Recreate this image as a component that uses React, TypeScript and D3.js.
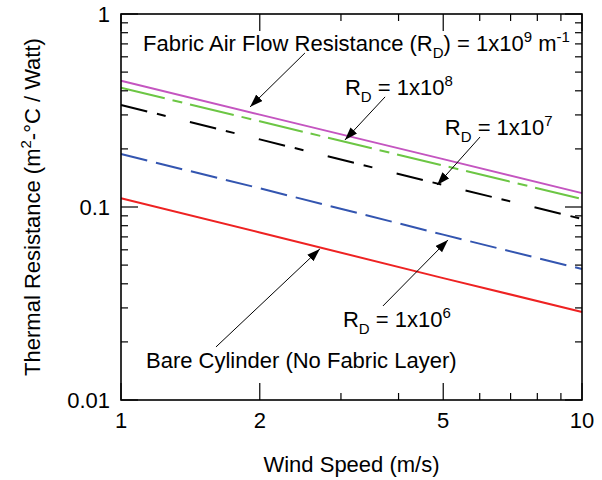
import React from 'react';
import * as d3 from 'd3';

const windSpeed = [1, 2, 5, 10];

// thermal resistance (m2-C / W) for each fabric air flow resistance
const rd1e9 = [0.451, 0.301, 0.177, 0.118];
const rd1e8 = [0.415, 0.278, 0.164, 0.110];
const rd1e7 = [0.338, 0.224, 0.130, 0.0867];
const rd1e6 = [0.188, 0.125, 0.0719, 0.0477];
const bare = [0.111, 0.0738, 0.0428, 0.0286];

const xMajor = [1, 2, 5, 10];
const xTickLabels = ['1', '2', '5', '10'];
const yMajor = [0.01, 0.1, 1];
const yTickLabels = ['0.01', '0.1', '1'];

const series = [
    { name: 'rd1e9', values: rd1e9, color: '#c455c0', dash: null },
    { name: 'rd1e8', values: rd1e8, color: '#6cc644', dash: '45 8 10 8' },
    { name: 'rd1e7', values: rd1e7, color: '#000000', dash: '27 10 9 25' },
    { name: 'rd1e6', values: rd1e6, color: '#3355b0', dash: '27 9' },
    { name: 'bare', values: bare, color: '#ee2222', dash: null },
];

const W = 602;
const H = 480;
const margin = { top: 14, right: 20, bottom: 80, left: 121 };
const FONT = 'Liberation Sans, Arial, Helvetica, sans-serif';
const FS = 22;
const SMALL = 15;

const x = d3.scaleLog().domain([1, 10]).range([margin.left, W - margin.right]);
const y = d3.scaleLog().domain([0.01, 1]).range([H - margin.bottom, margin.top]);

const xMinor = d3.range(1, 11).filter(v => !xMajor.includes(v));
const yMinor = [0.01, 0.1].flatMap(d => d3.range(2, 10).map(k => +(k * d).toFixed(3)));

// annotation anchors, in data units
const notes = [
    { id: '9', text: [1.116, 0.643], from: [2.506, 0.628], to: [1.905, 0.330] },
    { id: '8', text: [3.06, 0.380], from: [3.74, 0.372], to: [3.06, 0.2224] },
    { id: '7', text: [5.04, 0.236], from: [6.01, 0.2305], to: [4.85, 0.130] },
    { id: '6', text: [3.03, 0.0239], from: [3.70, 0.0307], to: [5.12, 0.0675] },
    { id: 'b', text: [1.133, 0.01465], from: [1.607, 0.01883], to: [2.70, 0.0606] },
];

const App = () => {
    const line = d3.line<number>()
        .x((_, i) => x(windSpeed[i]))
        .y(d => y(d));

    const x0 = x.range()[0], x1 = x.range()[1];
    const y0 = y.range()[0], y1 = y.range()[1];
    const majLen = 17;
    const minLen = 7;

    const Rd = (exp: string) => (
        <>
            R<tspan dy={7} fontSize={SMALL}>D</tspan>
            <tspan dy={-7}> = 1x10</tspan>
            <tspan dy={-9} fontSize={SMALL}>{exp}</tspan>
        </>
    );

    const noteText = (id: string) => {
        if (id === '9') {
            return (
                <>
                    Fabric Air Flow Resistance (R<tspan dy={7} fontSize={SMALL}>D</tspan>
                    <tspan dy={-7}>) = 1x10</tspan>
                    <tspan dy={-9} fontSize={SMALL}>9</tspan>
                    <tspan dy={9}> m</tspan>
                    <tspan dy={-9} fontSize={SMALL}>-1</tspan>
                </>
            );
        }
        if (id === 'b') return 'Bare Cylinder (No Fabric Layer)';
        return Rd(id);
    };

    return (
        <svg width={W} height={H} style={{ position: 'absolute', left: 0, top: 0, background: '#fff' }}
            fontFamily={FONT}>
            <defs>
                <marker id="arrow" markerUnits="userSpaceOnUse" markerWidth={14} markerHeight={10}
                    refX={13} refY={4.5} orient="auto">
                    <path d="M0,0 L13,4.5 L0,9 Z" fill="#000" />
                </marker>
            </defs>

            {series.map(s => (
                <path key={s.name} d={line(s.values) || ''} fill="none" stroke={s.color}
                    strokeWidth={2} strokeDasharray={s.dash || undefined} />
            ))}

            {/* frame */}
            <rect x={x0} y={y1} width={x1 - x0} height={y0 - y1} fill="none" stroke="#000" strokeWidth={1.6} />

            {/* x ticks, bottom and top */}
            {xMajor.concat(xMinor).map(v => {
                const len = xMajor.includes(v) ? majLen : minLen;
                return (
                    <g key={'x' + v} stroke="#000" strokeWidth={1.2}>
                        <line x1={x(v)} x2={x(v)} y1={y0} y2={y0 - len} />
                        <line x1={x(v)} x2={x(v)} y1={y1} y2={y1 + len} />
                    </g>
                );
            })}
            {/* y ticks, left and right */}
            {yMajor.concat(yMinor).map(v => {
                const len = yMajor.includes(v) ? majLen : minLen;
                return (
                    <g key={'y' + v} stroke="#000" strokeWidth={1.2}>
                        <line x1={x0} x2={x0 + len} y1={y(v)} y2={y(v)} />
                        <line x1={x1} x2={x1 - len} y1={y(v)} y2={y(v)} />
                    </g>
                );
            })}

            {xMajor.map((v, i) => (
                <text key={'xl' + v} x={x(v)} y={y0 + 28} textAnchor="middle" fontSize={FS}>
                    {xTickLabels[i]}
                </text>
            ))}
            {yMajor.map((v, i) => (
                <text key={'yl' + v} x={x0 - 11} y={y(v) + 8} textAnchor="end" fontSize={FS}>
                    {yTickLabels[i]}
                </text>
            ))}

            <text x={(x0 + x1) / 2} y={472} textAnchor="middle" fontSize={FS}>Wind Speed (m/s)</text>
            <text transform={`translate(40,${(y0 + y1) / 2}) rotate(-90)`} textAnchor="middle" fontSize={FS}>
                Thermal Resistance (m<tspan dy={-9} fontSize={SMALL}>2</tspan>
                <tspan dy={9}>-°C / Watt)</tspan>
            </text>

            {notes.map(n => (
                <g key={'n' + n.id}>
                    <line x1={x(n.from[0])} y1={y(n.from[1])} x2={x(n.to[0])} y2={y(n.to[1])}
                        stroke="#000" strokeWidth={1} markerEnd="url(#arrow)" />
                    <text x={x(n.text[0])} y={y(n.text[1])} fontSize={FS}>
                        {noteText(n.id)}
                    </text>
                </g>
            ))}
        </svg>
    );
};

export default App;
